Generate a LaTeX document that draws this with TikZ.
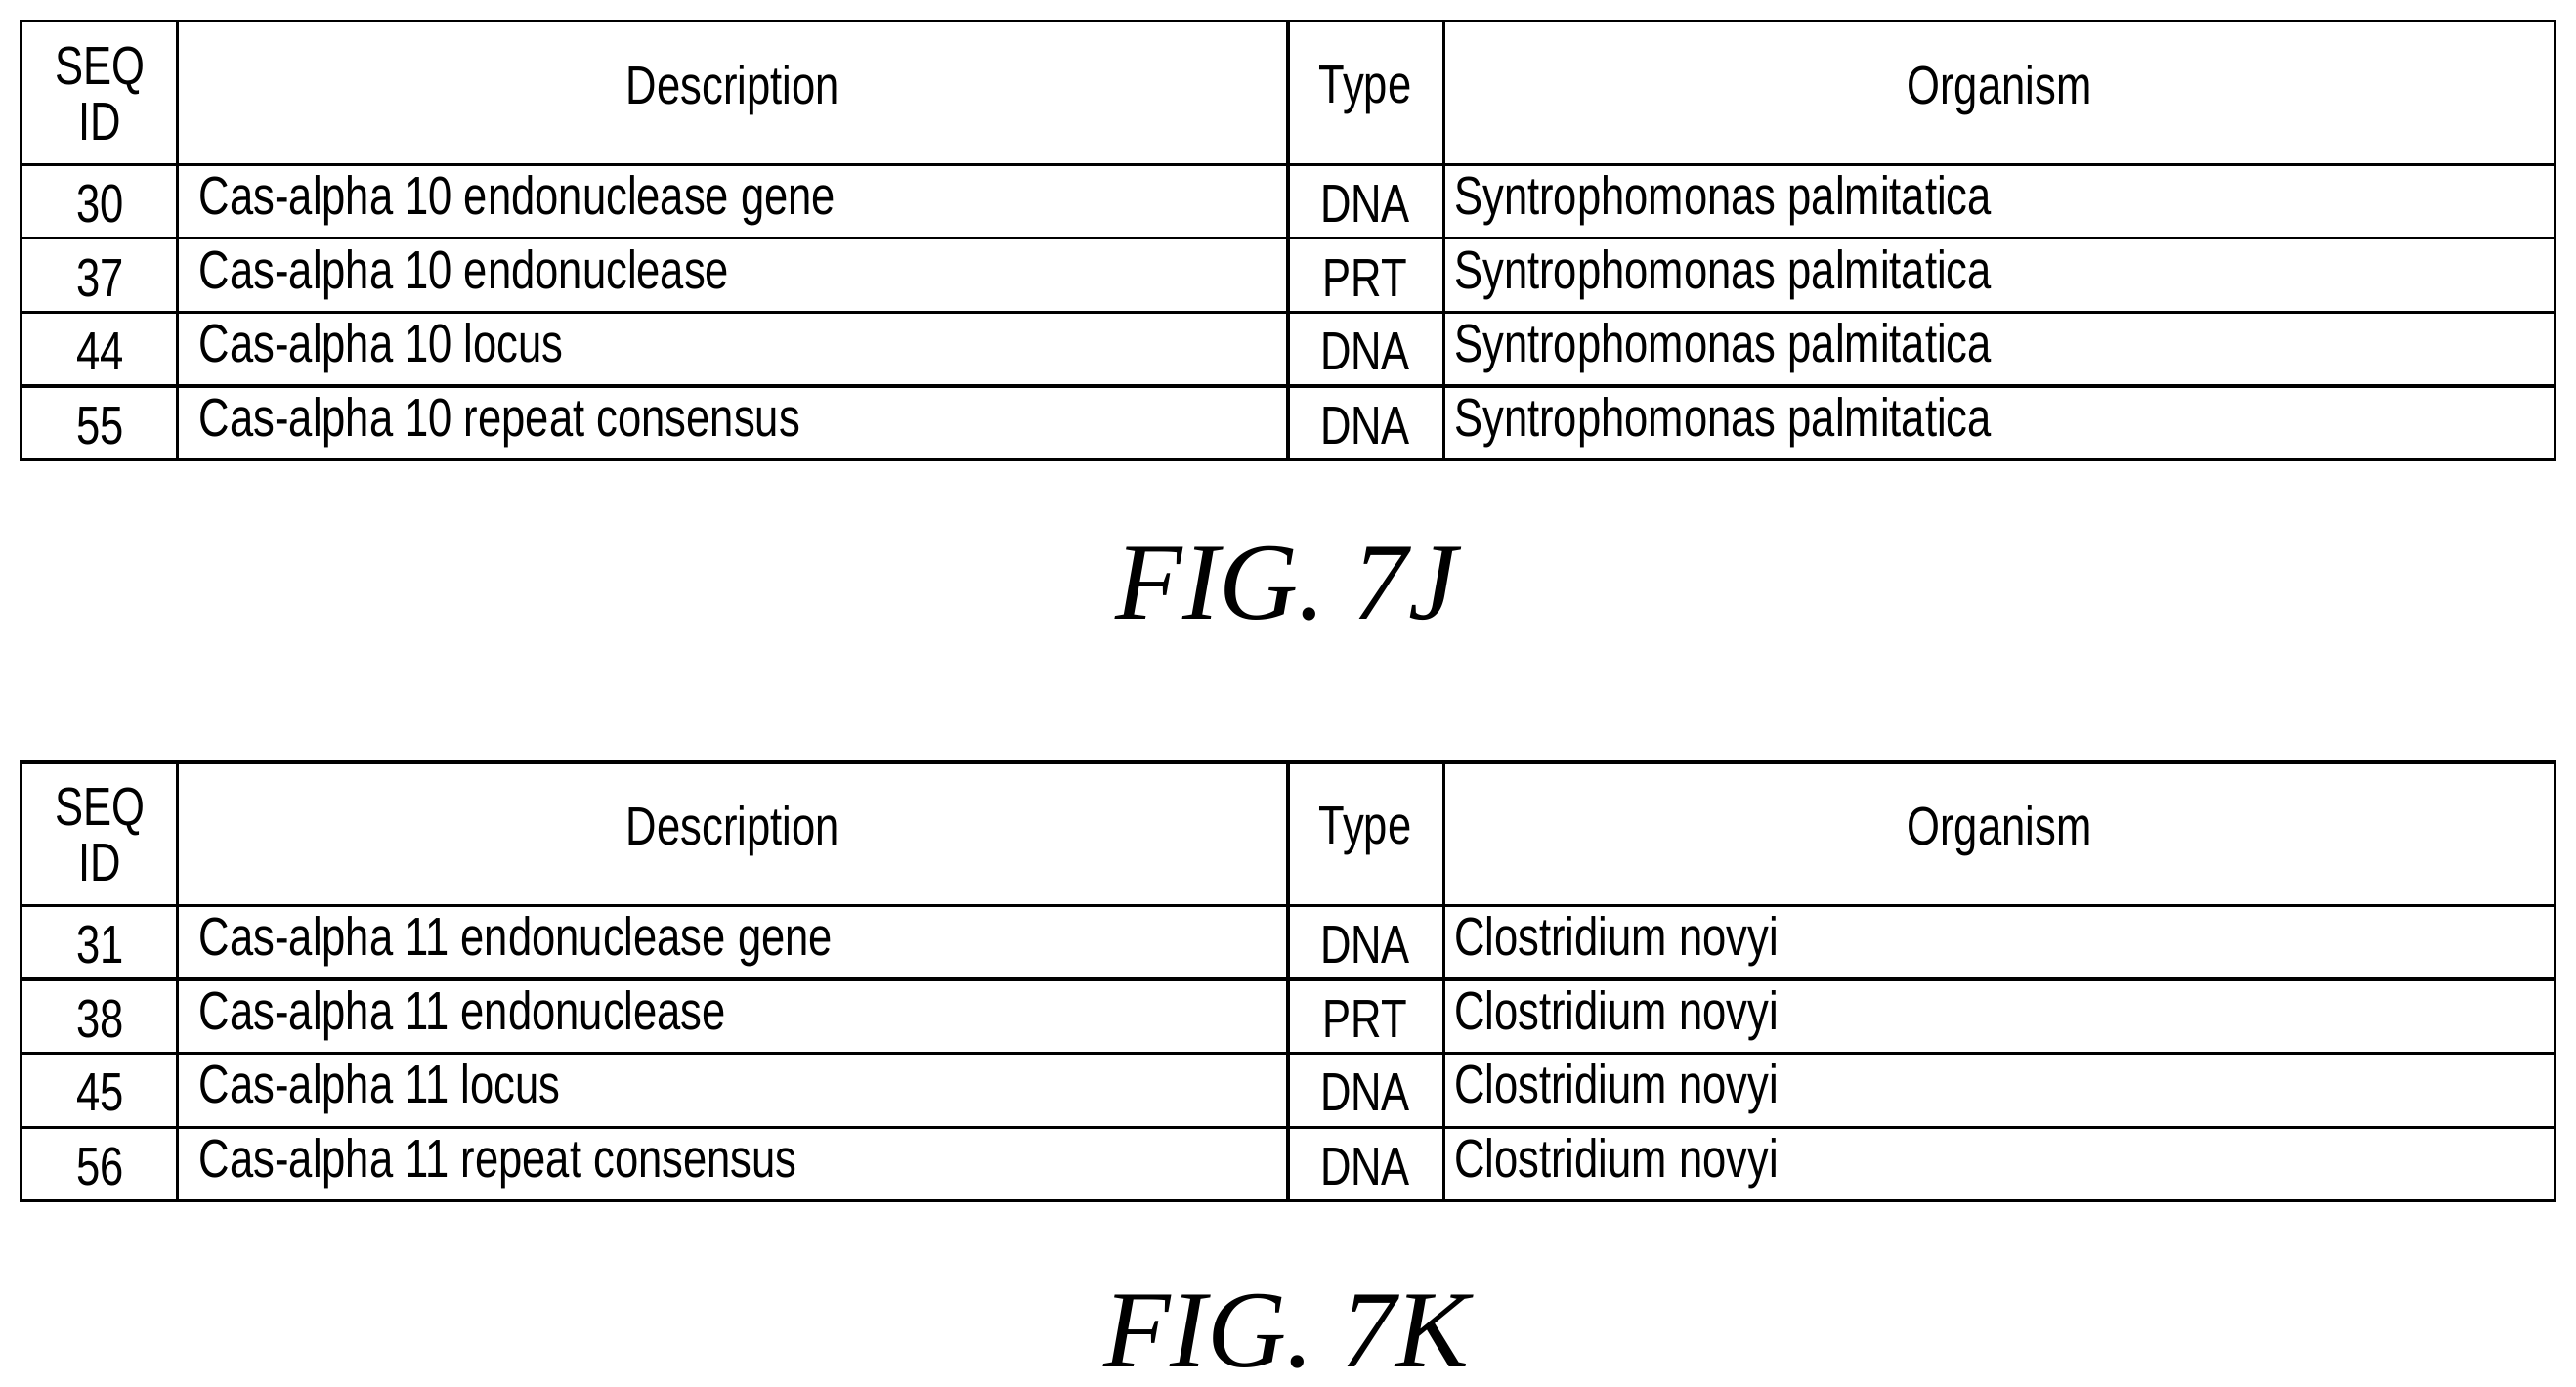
\documentclass[tikz,border=0pt]{standalone}
\usepackage{fontspec}
\setmainfont{Liberation Serif}
\newfontfamily\tabfont[FakeStretch=0.79]{Liberation Sans}
\begin{document}
\begin{tikzpicture}[x=0.03cm,y=-0.03cm,
  grid/.style={line width=1.6pt,black},
  cell/.style={font=\tabfont\fontsize{28}{30}\selectfont,inner sep=0pt},
  figcap/.style={font=\itshape\fontsize{57}{60}\selectfont,inner sep=0pt}]
\useasboundingbox (0,0) rectangle (1568,844);
\newcommand{\mytable}[9]{%
 \begin{scope}[yshift=#1*-0.03cm]
 \draw[grid] (13,13) rectangle (1555,280);
 \foreach \yy in {100,145,190,235} \draw[grid] (13,\yy) -- (1555,\yy);
 \foreach \xx in {108,784,879} \draw[grid] (\xx,13) -- (\xx,280);
 \node[cell] (#2sq) at (61,43) {SEQ};
 \node[cell] (#2sid) at (61,74) {ID};
 \node[cell] (#2de) at (446,55) {Description};
 \node[cell] (#2ty) at (831,55) {Type};
 \node[cell] (#2or) at (1217,55) {Organism};
 \foreach \i/\s/\d/\t [count=\k] in {0/#3/ endonuclease gene/DNA,1/#4/ endonuclease/PRT,2/#5/ locus/DNA,3/#6/ repeat consensus/DNA}{
   \node[cell] (#2id\k) at (61,124+45*\i) {\s};
   \node[cell,anchor=west] (#2d\k) at (121,122+45*\i) {Cas-alpha #7\d};
   \node[cell] (#2t\k) at (831,124+45*\i) {\t};
   \node[cell,anchor=west] (#2o\k) at (885,122+45*\i) {#8};
 }
 \end{scope}}
\mytable{0}{a}{30}{37}{44}{55}{10}{Syntrophomonas palmitatica}{}
\mytable{451}{b}{31}{38}{45}{56}{11}{Clostridium novyi}{}
\node[figcap] (c1) at (783,355) {FIG. 7J};
\node[figcap] (c2) at (783,810) {FIG. 7K};
\end{tikzpicture}
\end{document}
